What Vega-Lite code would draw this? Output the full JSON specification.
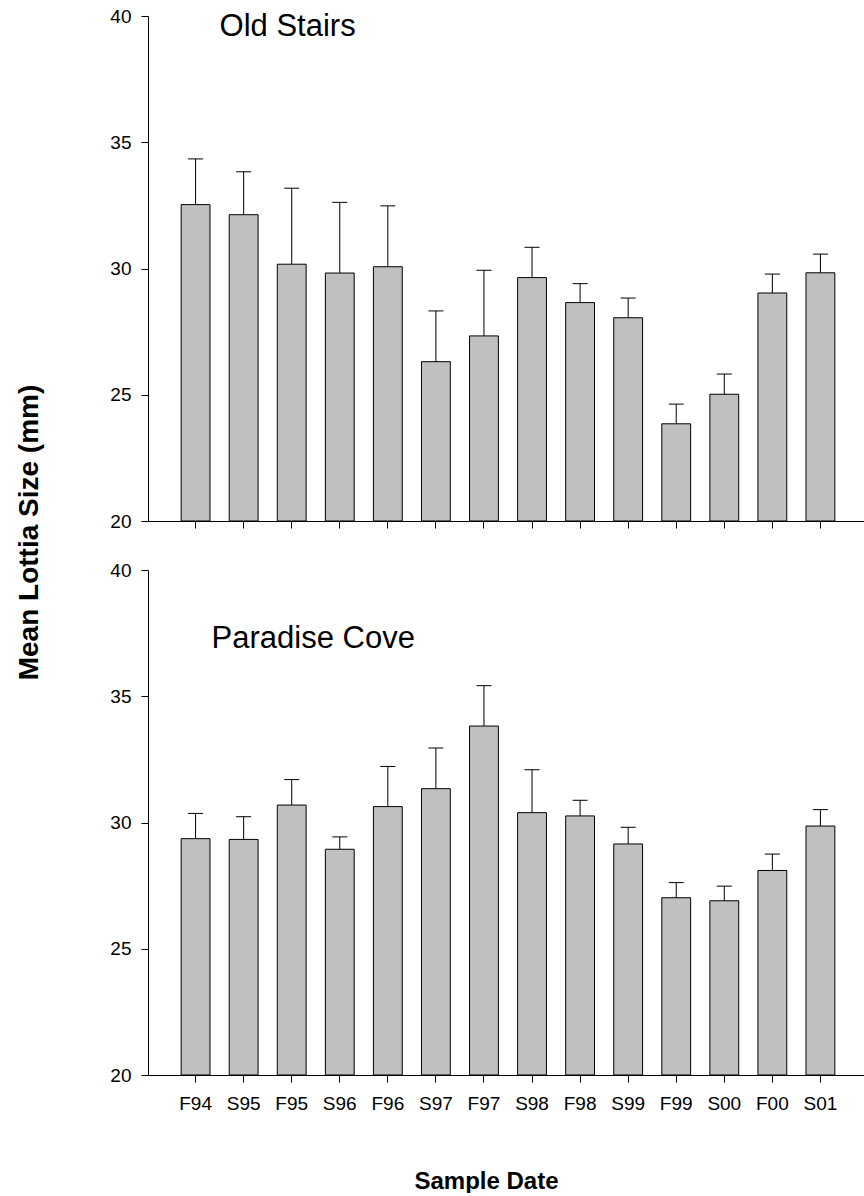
{
  "$schema": "https://vega.github.io/schema/vega-lite/v6.json",
  "background": "white",
  "padding": {"left": 15, "top": 7, "right": 0, "bottom": 0},
  "config": {
    "view": {"stroke": null},
    "font": "Liberation Sans",
    "axis": {"domainColor": "black", "tickColor": "black", "labelColor": "black", "titleColor": "black", "grid": false, "tickSize": 7, "domainWidth": 1, "tickWidth": 1}
  },
  "datasets": {
    "sizes": [
      {"site": "Old Stairs", "date": "F94", "mean": 32.53, "upper": 34.34},
      {"site": "Old Stairs", "date": "S95", "mean": 32.13, "upper": 33.83},
      {"site": "Old Stairs", "date": "F95", "mean": 30.17, "upper": 33.18},
      {"site": "Old Stairs", "date": "S96", "mean": 29.82, "upper": 32.62},
      {"site": "Old Stairs", "date": "F96", "mean": 30.07, "upper": 32.48},
      {"site": "Old Stairs", "date": "S97", "mean": 26.31, "upper": 28.32},
      {"site": "Old Stairs", "date": "F97", "mean": 27.33, "upper": 29.93},
      {"site": "Old Stairs", "date": "S98", "mean": 29.64, "upper": 30.84},
      {"site": "Old Stairs", "date": "F98", "mean": 28.65, "upper": 29.40},
      {"site": "Old Stairs", "date": "S99", "mean": 28.05, "upper": 28.83},
      {"site": "Old Stairs", "date": "F99", "mean": 23.85, "upper": 24.63},
      {"site": "Old Stairs", "date": "S00", "mean": 25.02, "upper": 25.82},
      {"site": "Old Stairs", "date": "F00", "mean": 29.03, "upper": 29.78},
      {"site": "Old Stairs", "date": "S01", "mean": 29.83, "upper": 30.57},
      {"site": "Paradise Cove", "date": "F94", "mean": 29.36, "upper": 30.36},
      {"site": "Paradise Cove", "date": "S95", "mean": 29.33, "upper": 30.23},
      {"site": "Paradise Cove", "date": "F95", "mean": 30.69, "upper": 31.70},
      {"site": "Paradise Cove", "date": "S96", "mean": 28.94, "upper": 29.43},
      {"site": "Paradise Cove", "date": "F96", "mean": 30.63, "upper": 32.22},
      {"site": "Paradise Cove", "date": "S97", "mean": 31.34, "upper": 32.95},
      {"site": "Paradise Cove", "date": "F97", "mean": 33.82, "upper": 35.42},
      {"site": "Paradise Cove", "date": "S98", "mean": 30.39, "upper": 32.09},
      {"site": "Paradise Cove", "date": "F98", "mean": 30.26, "upper": 30.88},
      {"site": "Paradise Cove", "date": "S99", "mean": 29.15, "upper": 29.81},
      {"site": "Paradise Cove", "date": "F99", "mean": 27.02, "upper": 27.62},
      {"site": "Paradise Cove", "date": "S00", "mean": 26.90, "upper": 27.48},
      {"site": "Paradise Cove", "date": "F00", "mean": 28.10, "upper": 28.75},
      {"site": "Paradise Cove", "date": "S01", "mean": 29.86, "upper": 30.51}
    ]
  },
  "vconcat": [
    {
      "width": 720,
      "height": 505,
      "layer": [
        {
          "data": {"name": "sizes"},
          "transform": [{"filter": "datum.site === 'Old Stairs'"}],
          "mark": {"type": "bar", "fill": "#c0c0c0", "stroke": "black", "strokeWidth": 1},
          "encoding": {
            "x": {"field": "date", "type": "nominal", "sort": null,
              "scale": {"paddingInner": 0.4, "paddingOuter": 0.69},
              "axis": {"labels": false, "title": null}},
            "y": {"field": "mean", "type": "quantitative",
              "scale": {"domain": [20, 40], "nice": false, "zero": false},
              "axis": {"values": [20, 25, 30, 35, 40], "labelFontSize": 19, "labelPadding": 10,
                "title": "Mean Lottia Size (mm)", "titleFontSize": 28, "titleFontWeight": "bold",
                "titleAngle": -90, "titleAlign": "center", "titleBaseline": "alphabetic",
                "titleX": -111, "titleY": 516}},
            "y2": {"datum": 20}
          }
        },
        {
          "data": {"name": "sizes"},
          "transform": [{"filter": "datum.site === 'Old Stairs'"}],
          "mark": {"type": "rule", "color": "black", "strokeWidth": 1},
          "encoding": {"x": {"field": "date", "type": "nominal", "sort": null}, "y": {"field": "mean", "type": "quantitative"}, "y2": {"field": "upper"}}
        },
        {
          "data": {"name": "sizes"},
          "transform": [{"filter": "datum.site === 'Old Stairs'"}],
          "mark": {"type": "tick", "color": "black", "thickness": 1, "size": 15, "opacity": 1, "orient": "horizontal"},
          "encoding": {"x": {"field": "date", "type": "nominal", "sort": null}, "y": {"field": "upper", "type": "quantitative"}}
        },
        {
          "data": {"values": [{"label": "Old Stairs"}]},
          "mark": {"type": "text", "fontSize": 31, "fontWeight": "normal", "align": "left", "baseline": "alphabetic", "dx": 24, "color": "black"},
          "encoding": {"text": {"field": "label"}, "x": {"datum": "F94"}, "y": {"datum": 39.2}}
        }
      ]
    },
    {
      "width": 720,
      "height": 505,
      "layer": [
        {
          "data": {"name": "sizes"},
          "transform": [{"filter": "datum.site === 'Paradise Cove'"}],
          "mark": {"type": "bar", "fill": "#c0c0c0", "stroke": "black", "strokeWidth": 1},
          "encoding": {
            "x": {"field": "date", "type": "nominal", "sort": null,
              "scale": {"paddingInner": 0.4, "paddingOuter": 0.69},
              "axis": {"labelFontSize": 19, "labelPadding": 12, "labelAngle": 0,
                "title": "Sample Date", "titleFontSize": 24, "titleFontWeight": "bold",
                "titleBaseline": "alphabetic", "titleAlign": "center", "titleX": 338, "titleY": 113}},
            "y": {"field": "mean", "type": "quantitative",
              "scale": {"domain": [20, 40], "nice": false, "zero": false},
              "axis": {"values": [20, 25, 30, 35, 40], "labelFontSize": 19, "labelPadding": 10, "title": null}},
            "y2": {"datum": 20}
          }
        },
        {
          "data": {"name": "sizes"},
          "transform": [{"filter": "datum.site === 'Paradise Cove'"}],
          "mark": {"type": "rule", "color": "black", "strokeWidth": 1},
          "encoding": {"x": {"field": "date", "type": "nominal", "sort": null}, "y": {"field": "mean", "type": "quantitative"}, "y2": {"field": "upper"}}
        },
        {
          "data": {"name": "sizes"},
          "transform": [{"filter": "datum.site === 'Paradise Cove'"}],
          "mark": {"type": "tick", "color": "black", "thickness": 1, "size": 15, "opacity": 1, "orient": "horizontal"},
          "encoding": {"x": {"field": "date", "type": "nominal", "sort": null}, "y": {"field": "upper", "type": "quantitative"}}
        },
        {
          "data": {"values": [{"label": "Paradise Cove"}]},
          "mark": {"type": "text", "fontSize": 31, "fontWeight": "normal", "align": "left", "baseline": "alphabetic", "dx": 16, "color": "black"},
          "encoding": {"text": {"field": "label"}, "x": {"datum": "F94"}, "y": {"datum": 36.9}}
        }
      ]
    }
  ],
  "spacing": 49,
  "bounds": "flush"
}
